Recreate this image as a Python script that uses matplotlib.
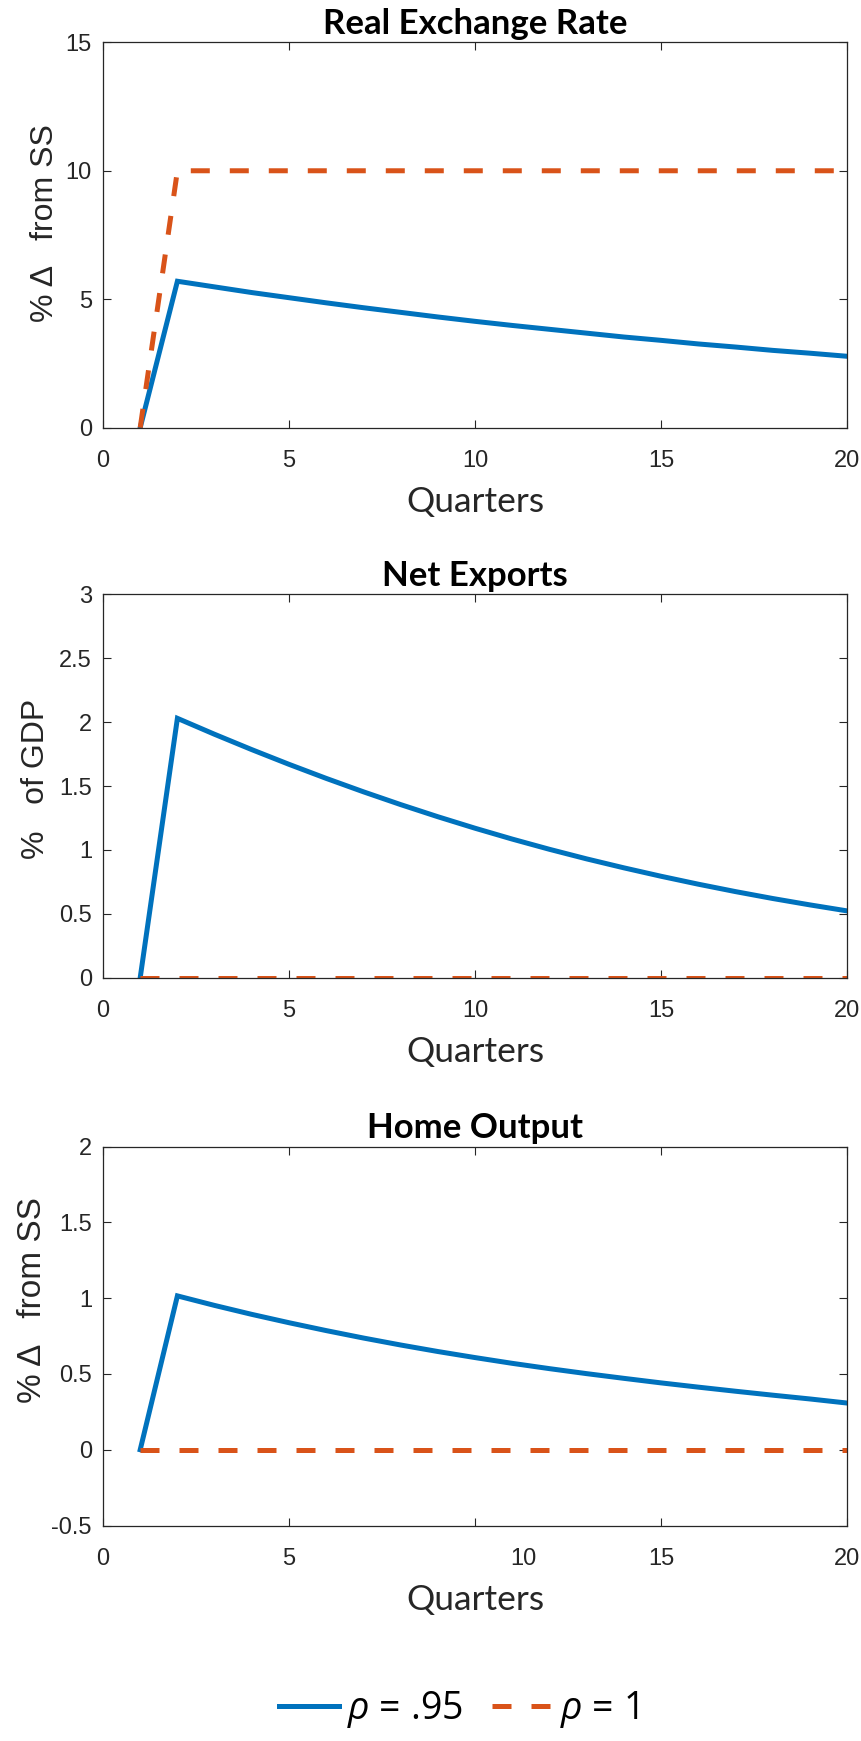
import matplotlib
matplotlib.use("Agg")
import matplotlib.pyplot as plt
import matplotlib.transforms as mtransforms

plt.rcParams['font.family'] = ['Liberation Sans', 'DejaVu Sans']
plt.rcParams['mathtext.fontset'] = 'custom'
plt.rcParams['mathtext.it'] = 'Open Sans:italic'
plt.rcParams['mathtext.rm'] = 'Open Sans'

# quarters after the shock
quarters = [1, 2, 3, 4, 5, 6, 7, 8, 9, 10, 11, 12, 13, 14, 15, 16, 17, 18, 19, 20]

# real exchange rate, % change from SS
rer_95 = [0, 5.70, 5.48, 5.26, 5.06, 4.86, 4.67, 4.49, 4.31, 4.14,
          3.98, 3.83, 3.68, 3.53, 3.40, 3.26, 3.14, 3.01, 2.90, 2.78]
rer_1 = [0, 10, 10, 10, 10, 10, 10, 10, 10, 10,
         10, 10, 10, 10, 10, 10, 10, 10, 10, 10]

# net exports, % of GDP
nx_95 = [0, 2.03, 1.905, 1.785, 1.67, 1.56, 1.455, 1.355, 1.26, 1.17,
         1.085, 1.005, 0.93, 0.86, 0.794, 0.732, 0.674, 0.62, 0.57, 0.523]
nx_1 = [0, 0, 0, 0, 0, 0, 0, 0, 0, 0,
        0, 0, 0, 0, 0, 0, 0, 0, 0, 0]

# home output, % change from SS
y_95 = [0, 1.015, 0.952, 0.893, 0.838, 0.786, 0.737, 0.691, 0.648, 0.608,
        0.570, 0.535, 0.502, 0.471, 0.441, 0.413, 0.386, 0.360, 0.335, 0.308]
y_1 = [0, 0, 0, 0, 0, 0, 0, 0, 0, 0,
       0, 0, 0, 0, 0, 0, 0, 0, 0, 0]

titles = ["Real Exchange Rate", "Net Exports", "Home Output"]
ylabels = ["% \u0394   from SS", "%   of GDP", "% \u0394   from SS"]
ylims = [(0, 15), (0, 3), (-0.5, 2)]
yticks = [[0, 5, 10, 15], [0, 0.5, 1, 1.5, 2, 2.5, 3], [-0.5, 0, 0.5, 1, 1.5, 2]]
series = [(rer_95, rer_1), (nx_95, nx_1), (y_95, y_1)]

blue = '#0072BD'
orange = '#D95319'
dark = '#262626'

fig = plt.figure(figsize=(8.62, 17.41), dpi=100)
H = 1741.0
W = 862.0
boxes = [(42.3, 427.7), (594.4, 977.7), (1146.6, 1525.5)]
label_x = [-0.058, -0.070, -0.074]
label_y = [0.53, 0.52, 0.595]
label_size = [23, 23, 24]

axes = []
for i in range(3):
    top, bot = boxes[i]
    ax = fig.add_axes([103 / W, 1 - bot / H, (847 - 103) / W, (bot - top) / H])
    s95, s1 = series[i]
    l1, = ax.plot(quarters, s95, color=blue, lw=3.6, solid_joinstyle='miter')
    l2, = ax.plot(quarters, s1, color=orange, lw=3.6, linestyle=(0, (3.8, 4.0)))
    ax.set_xlim(0, 20)
    ax.set_ylim(*ylims[i])
    ax.set_xticks([0, 5, 10, 15, 20])
    ax.set_yticks(yticks[i])
    ax.set_yticklabels([('%g' % v) for v in yticks[i]])
    ax.tick_params(direction='in', top=True, right=True, length=6, width=0.8,
                   color=dark, labelcolor=dark, labelsize=17)
    ax.tick_params(axis='x', pad=16)
    ax.tick_params(axis='y', pad=8)
    for sp in ax.spines.values():
        sp.set_color(dark)
        sp.set_linewidth(0.9)
    ax.set_title(titles[i], fontfamily='Lato', fontweight='bold', fontsize=25,
                 color='black', pad=6)
    ax.set_xlabel("Quarters", fontfamily='Lato', fontsize=25.5, color=dark, labelpad=10)
    ax.set_ylabel(ylabels[i], fontsize=label_size[i], color=dark)
    ax.yaxis.set_label_coords(label_x[i], label_y[i])
    axes.append(ax)

# the "10" label on the bottom panel sits off its tick in the original
lab = axes[2].get_xticklabels()[2]
lab.set_transform(lab.get_transform() + mtransforms.ScaledTranslation(48 / 100, 0, fig.dpi_scale_trans))

fig.legend([l1, l2], [r'$\rho$ = .95', r'$\rho$ = 1'], loc='center',
           bbox_to_anchor=(0.532, 0.018), ncol=2, frameon=False,
           prop={'family': 'Open Sans', 'size': 27}, handlelength=1.6,
           handletextpad=0.2, columnspacing=0.8, labelcolor='black')

fig.savefig("out.png", dpi=100)
